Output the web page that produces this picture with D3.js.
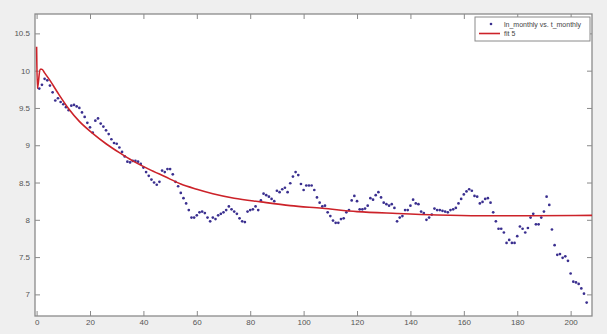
<!DOCTYPE html>
<html>
<head>
<meta charset="utf-8">
<script src="https://cdn.jsdelivr.net/npm/d3@7"></script>
<style>
  body { margin: 0; background: #efefef; }
  svg { display: block; }
</style>
</head>
<body>
<svg id="chart"></svg>
<script>
// observed series: ln_monthly vs t_monthly (t = 1..206)
const tMonthly = d3.range(1, 207);
const lnMonthly = [
  9.76, 9.81, 9.89, 9.87, 9.80, 9.71, 9.60, 9.63, 9.58, 9.55,
  9.51, 9.47, 9.53, 9.54, 9.52, 9.50, 9.44, 9.38, 9.30, 9.24,
  9.17, 9.33, 9.36, 9.29, 9.25, 9.20, 9.15, 9.08, 9.03, 9.02,
  8.97, 8.91, 8.85, 8.78, 8.77, 8.79, 8.79, 8.78, 8.75, 8.70,
  8.64, 8.59, 8.54, 8.50, 8.47, 8.51, 8.66, 8.64, 8.68, 8.68,
  8.61, 8.51, 8.45, 8.36, 8.29, 8.22, 8.13, 8.03, 8.03, 8.06,
  8.10, 8.11, 8.09, 8.03, 7.98, 8.03, 8.01, 8.06, 8.08, 8.10,
  8.13, 8.18, 8.14, 8.11, 8.08, 8.02, 7.98, 7.97, 8.11, 8.13,
  8.14, 8.18, 8.13, 8.26, 8.35, 8.33, 8.31, 8.28, 8.25, 8.39,
  8.37, 8.41, 8.43, 8.37, 8.49, 8.58, 8.64, 8.60, 8.48, 8.40,
  8.46, 8.46, 8.46, 8.40, 8.30, 8.23, 8.18, 8.19, 8.10, 8.05,
  7.99, 7.96, 7.96, 8.01, 8.02, 8.10, 8.13, 8.26, 8.32, 8.25,
  8.14, 8.14, 8.15, 8.19, 8.29, 8.27, 8.33, 8.37, 8.30, 8.23,
  8.21, 8.19, 8.21, 8.16, 7.98, 8.03, 8.05, 8.13, 8.13, 8.19,
  8.27, 8.22, 8.21, 8.11, 8.09, 8.00, 8.03, 8.07, 8.15, 8.13,
  8.13, 8.12, 8.11, 8.10, 8.13, 8.14, 8.16, 8.22, 8.28, 8.34,
  8.38, 8.41, 8.39, 8.32, 8.31, 8.22, 8.24, 8.28, 8.29, 8.23,
  8.10, 7.98, 7.88, 7.88, 7.83, 7.69, 7.73, 7.69, 7.69, 7.78,
  7.91, 7.88, 7.83, 7.89, 8.03, 8.08, 7.94, 7.94, 8.03, 8.11,
  8.31, 8.20, 7.87, 7.66, 7.53, 7.54, 7.49, 7.51, 7.45, 7.28,
  7.17, 7.16, 7.14, 7.08, 7.01, 6.89
];

// fitted curve "fit 5"
const fitT = [0, 0.3, 1.3, 2, 3, 5, 8, 12, 16, 21, 26, 31, 36, 42, 48, 54, 60, 66, 74, 84, 95, 107, 120, 135, 150, 166, 185, 208];
const fitV = [10.32, 9.76, 10.02, 10.02, 9.97, 9.87, 9.70, 9.49, 9.32, 9.16, 9.02, 8.90, 8.79, 8.68, 8.58, 8.48, 8.41, 8.35, 8.29, 8.24, 8.19, 8.155, 8.11, 8.085, 8.065, 8.055, 8.055, 8.06];

const xTicks = [0, 20, 40, 60, 80, 100, 120, 140, 160, 180, 200];
const yTicks = [7, 7.5, 8, 8.5, 9, 9.5, 10, 10.5];

const W = 607, H = 334;
const box = { left: 35, top: 14, right: 592, bottom: 316 };

const svg = d3.select('#chart').attr('width', W).attr('height', H);

const x = d3.scaleLinear().domain([-0.6, 208]).range([box.left, box.right]);
const y = d3.scaleLinear().domain([6.71, 10.76]).range([box.bottom, box.top]);

// plot area
svg.append('rect')
  .attr('x', box.left).attr('y', box.top)
  .attr('width', box.right - box.left).attr('height', box.bottom - box.top)
  .style('fill', '#fff');

svg.append('clipPath').attr('id', 'clip')
  .append('rect')
  .attr('x', box.left).attr('y', box.top)
  .attr('width', box.right - box.left).attr('height', box.bottom - box.top);

const axisColor = '#8a8a8a';
const textColor = '#555';

// axes (ticks inward, mirrored)
function styleAxis(g) {
  g.select('.domain').remove();
  g.selectAll('line').style('stroke', axisColor);
  g.selectAll('text').style('fill', textColor)
    .style('font-family', 'Liberation Sans, Arial, sans-serif')
    .style('font-size', '8px');
}

svg.append('g')
  .attr('transform', `translate(0,${box.bottom})`)
  .call(d3.axisBottom(x).tickValues(xTicks).tickSize(-5).tickPadding(3).tickFormat(d3.format('d')))
  .call(styleAxis);

svg.append('g')
  .attr('transform', `translate(0,${box.top})`)
  .call(d3.axisTop(x).tickValues(xTicks).tickSize(-5).tickFormat(''))
  .call(styleAxis);

svg.append('g')
  .attr('transform', `translate(${box.left},0)`)
  .call(d3.axisLeft(y).tickValues(yTicks).tickSize(-5).tickPadding(5).tickFormat(d => String(d)))
  .call(styleAxis);

svg.append('g')
  .attr('transform', `translate(${box.right},0)`)
  .call(d3.axisRight(y).tickValues(yTicks).tickSize(-5).tickFormat(''))
  .call(styleAxis);

svg.append('rect')
  .attr('x', box.left).attr('y', box.top)
  .attr('width', box.right - box.left).attr('height', box.bottom - box.top)
  .style('fill', 'none').style('stroke', axisColor).style('stroke-width', 1.3);

// data points
const pts = tMonthly.map((t, i) => ({ t, v: lnMonthly[i] }));
svg.append('g')
  .attr('clip-path', 'url(#clip)')
  .selectAll('circle')
  .data(pts)
  .enter()
  .append('circle')
  .attr('cx', d => x(d.t))
  .attr('cy', d => y(d.v))
  .attr('r', 1.35)
  .style('fill', '#3a2f8f');

// fit line
const fitPts = fitT.map((t, i) => ({ t, v: fitV[i] }));
const line = d3.line()
  .x(d => x(d.t))
  .y(d => y(d.v))
  .curve(d3.curveMonotoneX);

svg.append('path')
  .datum(fitPts)
  .attr('clip-path', 'url(#clip)')
  .attr('d', line)
  .style('fill', 'none')
  .style('stroke', '#cc2229')
  .style('stroke-width', 1.6);

// legend
const lg = svg.append('g').attr('transform', 'translate(475,17)');
lg.append('rect')
  .attr('width', 115).attr('height', 24)
  .style('fill', '#fff').style('stroke', axisColor).style('stroke-width', 1);
lg.append('circle').attr('cx', 16).attr('cy', 7).attr('r', 1.3).style('fill', '#3a2f8f');
lg.append('line').attr('x1', 4).attr('x2', 25).attr('y1', 16.5).attr('y2', 16.5)
  .style('stroke', '#cc2229').style('stroke-width', 1.6);
lg.selectAll('text.lbl')
  .data(['ln_monthly vs. t_monthly', 'fit 5'])
  .enter().append('text')
  .attr('class', 'lbl')
  .attr('x', 29)
  .attr('y', (d, i) => 9.5 + i * 9.5)
  .style('font-family', 'Liberation Sans, Arial, sans-serif')
  .style('font-size', '7px')
  .style('fill', '#444')
  .text(d => d);
</script>
</body>
</html>
